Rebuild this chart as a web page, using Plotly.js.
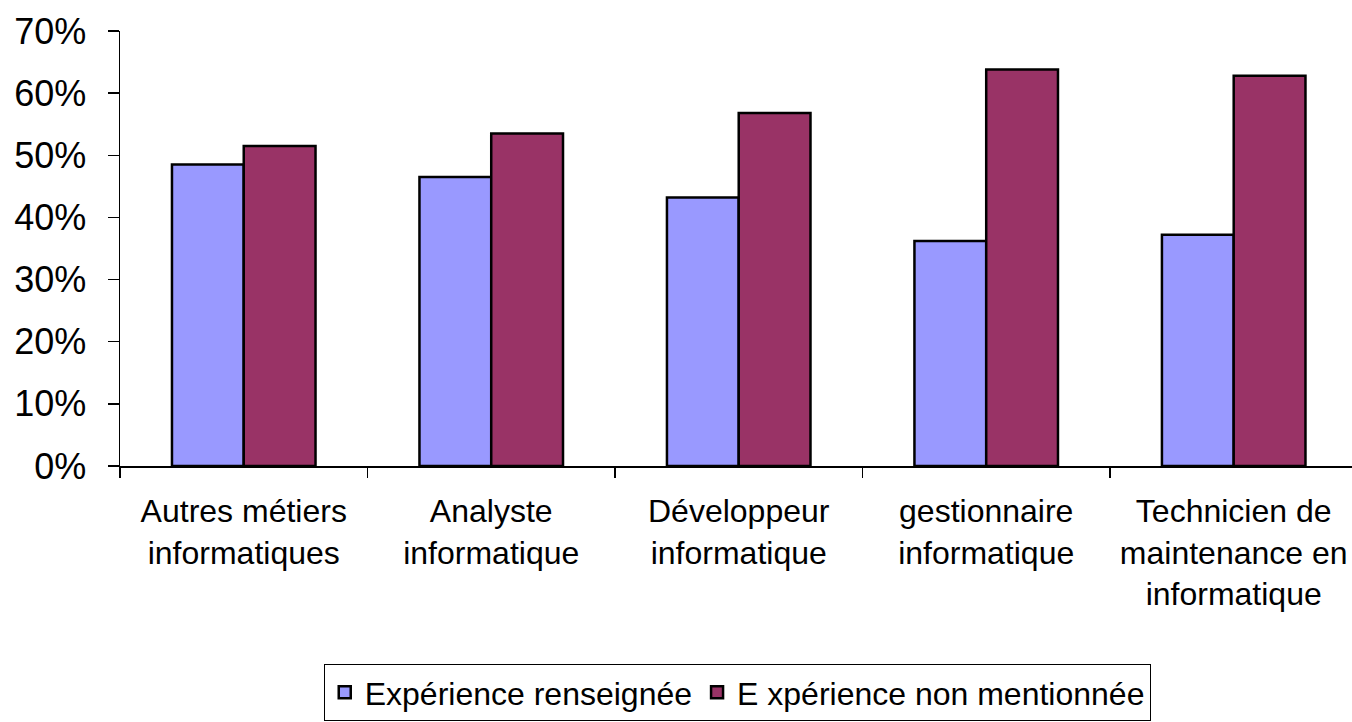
<!DOCTYPE html>
<html>
<head>
<meta charset="utf-8">
<script src="https://cdn.plot.ly/plotly-3.0.1.min.js"></script>
<style>
html,body{margin:0;padding:0;background:#fff;}
#chart{width:1352px;height:722px;}
</style>
</head>
<body>
<div id="chart"></div>
<script>
const categories = [
  "Autres métiers<br>informatiques",
  "Analyste<br>informatique",
  "Développeur<br>informatique",
  "gestionnaire<br>informatique",
  "Technicien de<br>maintenance en<br>informatique"
];
const seriesNames = ["Expérience renseignée", "E xpérience non mentionnée"];
const experienceRenseignee = [0.485, 0.465, 0.432, 0.362, 0.372];
const experienceNonMentionnee = [0.515, 0.535, 0.568, 0.638, 0.628];
const yTickValues = [0, 0.1, 0.2, 0.3, 0.4, 0.5, 0.6, 0.7];

const font = "Liberation Sans, Arial, sans-serif";

const traces = [
  {
    type: "bar",
    name: seriesNames[0],
    x: categories,
    y: experienceRenseignee,
    marker: {color: "#9999FF", line: {color: "#000000", width: 2.5}}
  },
  {
    type: "bar",
    name: seriesNames[1],
    x: categories,
    y: experienceNonMentionnee,
    marker: {color: "#993366", line: {color: "#000000", width: 2.5}}
  }
];

const layout = {
  width: 1352,
  height: 722,
  margin: {l: 120, r: 0, t: 31, b: 256},
  paper_bgcolor: "#ffffff",
  plot_bgcolor: "#ffffff",
  barmode: "group",
  bargap: 0.42,
  bargroupgap: 0,
  showlegend: true,
  font: {family: font, color: "#000000"},
  xaxis: {
    type: "category",
    range: [-0.5, 4.478],
    showline: true,
    linecolor: "#000000",
    linewidth: 1.5,
    ticks: "outside",
    tickson: "boundaries",
    ticklen: 10,
    tickcolor: "#000000",
    tickwidth: 1.5,
    showgrid: false,
    zeroline: false,
    tickfont: {family: font, size: 32, color: "#000000"},
    ticklabelstandoff: 16
  },
  yaxis: {
    range: [0, 0.7],
    tickvals: yTickValues,
    tickformat: ".0%",
    showline: true,
    linecolor: "#000000",
    linewidth: 1.5,
    ticks: "outside",
    ticklen: 11,
    tickcolor: "#000000",
    tickwidth: 1.5,
    showgrid: false,
    zeroline: false,
    tickfont: {family: font, size: 36, color: "#000000"},
    ticklabelstandoff: 14
  },
  legend: {
    orientation: "h",
    x: 0.501,
    xanchor: "center",
    y: -0.455,
    yanchor: "top",
    bordercolor: "#000000",
    borderwidth: 1,
    font: {family: font, size: 32, color: "#000000"},
    itemwidth: 30,
    traceorder: "normal"
  }
};

Plotly.newPlot("chart", traces, layout, {displayModeBar: false, staticPlot: true});
</script>
</body>
</html>
